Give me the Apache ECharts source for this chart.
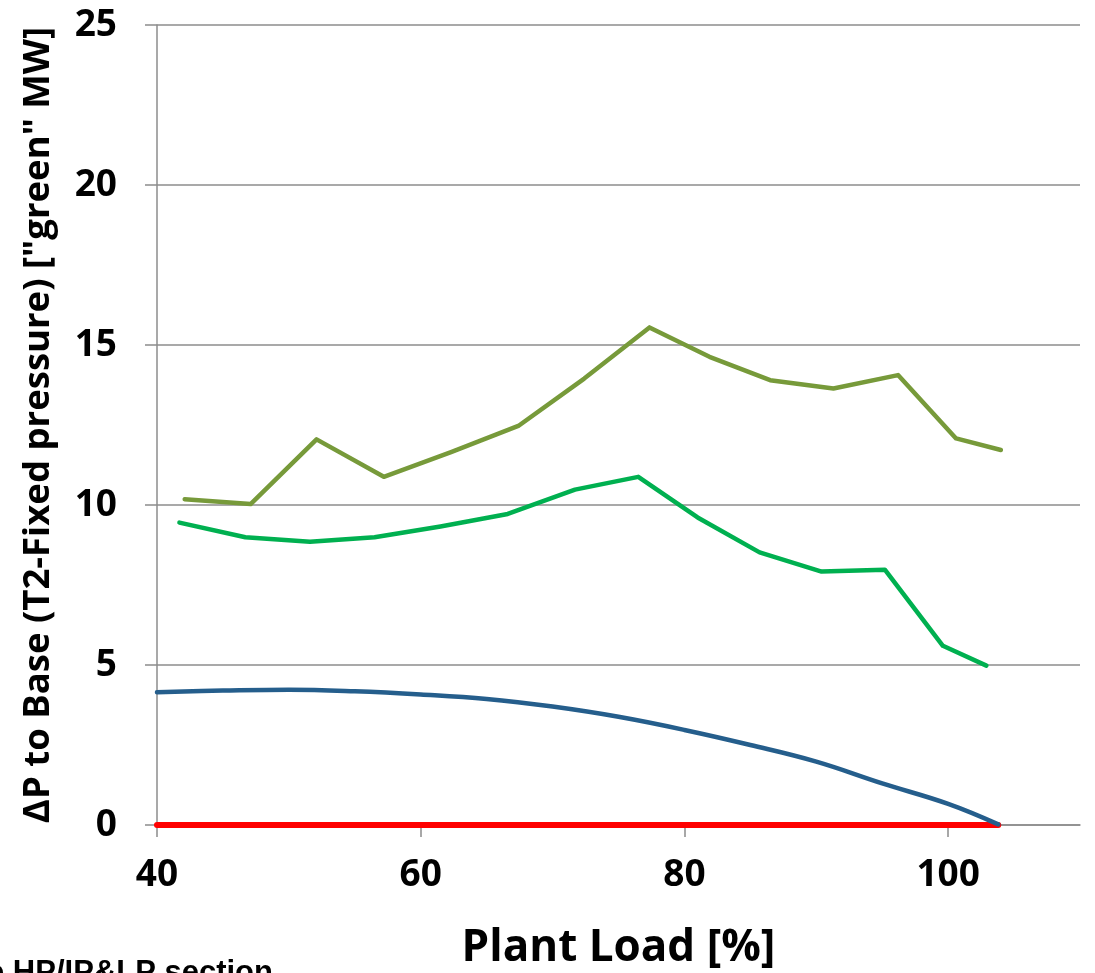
<!DOCTYPE html>
<html><head><meta charset="utf-8">
<script src="https://cdn.jsdelivr.net/npm/echarts@6/dist/echarts.min.js"></script>
<style>html,body{margin:0;padding:0;background:#fff}#c{width:1095px;height:973px}</style>
</head><body><div id="c"></div>
<script>
const xTicks = [40, 60, 80, 100];
const yTicks = [0, 5, 10, 15, 20, 25];
const olive = [[42.1,10.18],[47.1,10.03],[52.1,12.05],[57.2,10.88],[62.3,11.65],[67.4,12.47],[72.4,13.95],[77.35,15.55],[81.9,14.63],[86.5,13.9],[91.3,13.64],[96.2,14.06],[100.6,12.08],[104.0,11.72]];
const green = [[41.7,9.45],[46.7,8.99],[51.6,8.85],[56.5,8.99],[61.5,9.33],[66.6,9.72],[71.7,10.48],[76.5,10.88],[81.0,9.61],[85.7,8.52],[90.4,7.92],[95.2,7.98],[99.6,5.60],[102.9,4.98]];
const blue = [[40,4.15],[45,4.2],[50,4.23],[55,4.18],[60,4.08],[65,3.94],[70,3.7],[75,3.38],[80,2.97],[85,2.5],[90,1.98],[95,1.3],[100,0.66],[103.8,0.02]];
const red = [[40,0],[103.8,0]];
const xName = 'Plant Load [%]';
const yName = 'ΔP to Base (T2-Fixed pressure) ["green" MW]';
const footText = 'e HP/IP&LP section';

const F = '"Open Sans", sans-serif';
const gray = '#8c8c8c';
const chart = echarts.init(document.getElementById('c'), null, {renderer:'canvas'});
const mk = (d, c, w) => ({type:'line', data:d, showSymbol:false, symbol:'none', smooth:false,
  lineStyle:{color:c, width:w, cap:'round', join:'round'}, animation:false, z:2});
chart.setOption({
  animation:false,
  grid:{left:157, right:15, top:25, bottom:148, containLabel:false, outerBoundsMode:'none'},
  xAxis:{type:'value', min:40, max:110, interval:20,
    name:xName, nameLocation:'middle', nameGap:101,
    nameTextStyle:{fontFamily:F, fontWeight:'bold', fontSize:44, color:'#000'},
    axisLine:{show:true, lineStyle:{color:gray, width:1.5}},
    axisTick:{show:true, length:12, customValues:xTicks, lineStyle:{color:gray, width:1.5}},
    axisLabel:{customValues:xTicks, margin:32, fontFamily:F, fontWeight:'bold', fontSize:37, color:'#000'},
    splitLine:{show:false}},
  yAxis:{type:'value', min:0, max:25, interval:5,
    name:yName, nameLocation:'middle', nameGap:100, nameRotate:90,
    nameTextStyle:{fontFamily:F, fontWeight:'bold', fontSize:36.5, color:'#000'},
    axisLine:{show:true, lineStyle:{color:gray, width:1.5}},
    axisTick:{show:true, length:12, lineStyle:{color:gray, width:1.5}},
    axisLabel:{margin:40, fontFamily:F, fontWeight:'bold', fontSize:37, color:'#000',
      formatter:v => yTicks.includes(v) ? String(v) : ''},
    splitLine:{show:true, lineStyle:{color:gray, width:1.5}}},
  graphic:[{type:'text', left:-13, top:958, style:{text:footText, font:'bold 31px "Liberation Sans", Arial, sans-serif', fill:'#000'}}],
  series:[mk(red,'#ff0000',6), mk(blue,'#255e8c',4.5), mk(green,'#00b050',4.5), mk(olive,'#779a3a',4.5)]
});
chart.setOption({series:[{},{smooth:0.4},{},{}]});
</script></body></html>
